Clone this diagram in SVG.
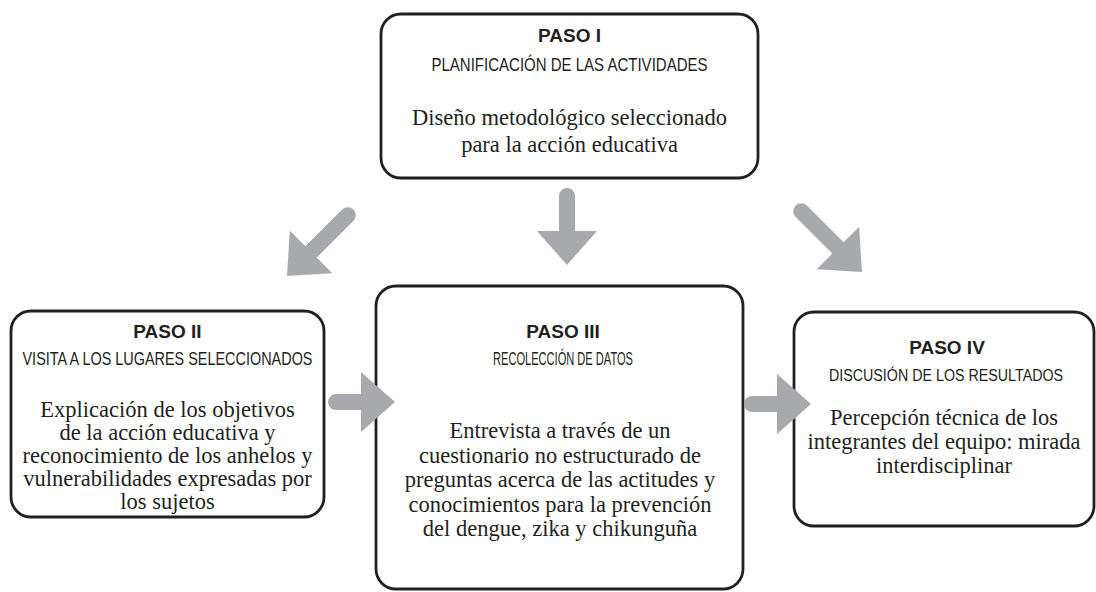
<svg xmlns="http://www.w3.org/2000/svg" width="1096" height="592" viewBox="0 0 1096 592">
<style>
.box{fill:#fff;stroke:#231f20;stroke-width:2.8}
.arr{fill:#a7a9ac}
.h{font-family:"Liberation Sans",Arial,sans-serif;font-weight:bold;font-size:19px;fill:#231f20;text-anchor:middle}
.s{font-family:"Liberation Sans",Arial,sans-serif;font-size:18px;fill:#231f20;text-anchor:middle}
.b{font-family:"Liberation Serif","Times New Roman",serif;font-size:22.5px;fill:#231f20;text-anchor:middle}
</style>
<defs>
<path id="aLong" d="M-8,-34 L-8,-86 A8,8 0 0 1 8,-86 L8,-34 L30,-34 L0,0 L-30,-34 Z"/>
<path id="aMid" d="M-8,-34 L-8,-69 A8,8 0 0 1 8,-69 L8,-34 L30,-34 L0,0 L-30,-34 Z"/>
<path id="aShort" d="M-8,-34 L-8,-59 A8,8 0 0 1 8,-59 L8,-34 L30,-34 L0,0 L-30,-34 Z"/>
</defs>

<g id="paso1">
<rect class="box" x="381" y="14" width="377" height="164" rx="20"/>
<text class="h" x="569.5" y="42">PASO I</text>
<text class="s" x="569.5" y="71" textLength="276" lengthAdjust="spacingAndGlyphs">PLANIFICACIÓN DE LAS ACTIVIDADES</text>
<text class="b" x="569.5" y="125">Diseño metodológico seleccionado</text>
<text class="b" x="569.5" y="152">para la acción educativa</text>
</g>

<g id="paso2">
<rect class="box" x="11" y="311" width="313" height="206" rx="20"/>
<text class="h" x="167.5" y="338">PASO II</text>
<text class="s" x="167.5" y="365" textLength="290" lengthAdjust="spacingAndGlyphs">VISITA A LOS LUGARES SELECCIONADOS</text>
<text class="b" x="167.5" y="417">Explicación de los objetivos</text>
<text class="b" x="167.5" y="440">de la acción educativa y</text>
<text class="b" x="167.5" y="463">reconocimiento de los anhelos y</text>
<text class="b" x="167.5" y="486">vulnerabilidades expresadas por</text>
<text class="b" x="167.5" y="509">los sujetos</text>
</g>

<g id="paso3">
<rect class="box" x="376" y="286" width="367" height="303" rx="20"/>
<text class="h" x="563" y="338">PASO III</text>
<text class="s" x="563" y="365" textLength="140" lengthAdjust="spacingAndGlyphs">RECOLECCIÓN DE DATOS</text>
<text class="b" x="560" y="438">Entrevista a través de un</text>
<text class="b" x="560" y="462.5">cuestionario no estructurado de</text>
<text class="b" x="560" y="487">preguntas acerca de las actitudes y</text>
<text class="b" x="560" y="511.5">conocimientos para la prevención</text>
<text class="b" x="560" y="536">del dengue, zika y chikunguña</text>
</g>

<g id="paso4">
<rect class="box" x="794" y="312" width="300" height="214" rx="20"/>
<text class="h" x="947" y="354">PASO IV</text>
<text class="s" transform="translate(946,381) scale(0.84,1)" x="0" y="0" style="font-size:17px">DISCUSIÓN DE LOS RESULTADOS</text>
<text class="b" x="944" y="425">Percepción técnica de los</text>
<text class="b" x="944" y="449">integrantes del equipo: mirada</text>
<text class="b" x="944" y="473">interdisciplinar</text>
</g>

<g id="connectors">
<use href="#aLong" class="arr" transform="translate(287,276) rotate(45)"/>
<use href="#aMid" class="arr" transform="translate(567,265)"/>
<use href="#aLong" class="arr" transform="translate(862,272) rotate(-45)"/>
<use href="#aShort" class="arr" transform="translate(395,402) rotate(-90)"/>
<use href="#aShort" class="arr" transform="translate(811,404) rotate(-90)"/>
</g>
</svg>
